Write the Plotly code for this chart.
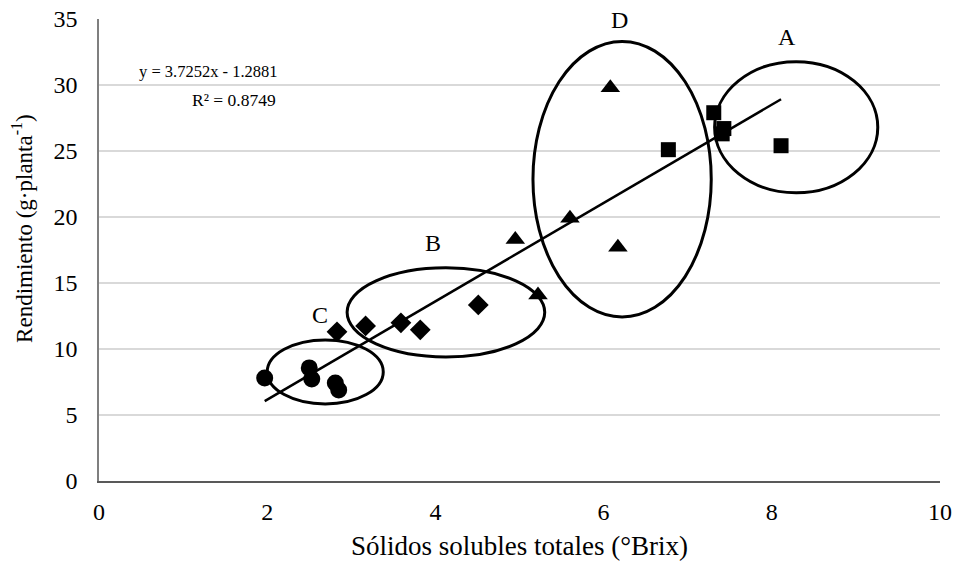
import plotly.graph_objects as go

# Group A (squares)
a_x = [6.77, 7.31, 7.43, 7.41, 8.11]
a_y = [25.1, 27.9, 26.7, 26.3, 25.4]
# Group D (triangles)
d_x = [6.08, 5.60, 4.95, 6.17, 5.22]
d_y = [29.8, 19.9, 18.3, 17.7, 14.1]
# Group B (diamonds)
b_x = [2.83, 3.17, 3.59, 3.82, 4.51]
b_y = [11.3, 11.75, 11.98, 11.45, 13.34]
# Group C (circles)
c_x = [1.97, 2.50, 2.53, 2.81, 2.85]
c_y = [7.8, 8.57, 7.73, 7.43, 6.9]

slope, intercept = 3.7252, -1.2881
r2 = 0.8749

# ellipses (x0, x1, y0, y1) and labels
ellipses = {
    "A": (7.32, 9.26, 21.83, 31.77),
    "B": (2.95, 5.30, 9.4, 16.15),
    "C": (2.0, 3.38, 5.84, 10.69),
    "D": (5.16, 7.28, 12.43, 33.3),
}
label_pos = {"A": (8.18, 33.6), "B": (3.97, 18.0), "C": (2.63, 12.6), "D": (6.19, 34.9)}

x_ticks = [0, 2, 4, 6, 8, 10]
y_ticks = [0, 5, 10, 15, 20, 25, 30, 35]

font_family = "Liberation Serif"

fig = go.Figure()
all_x = a_x + d_x + b_x + c_x
xmin, xmax = min(all_x), max(all_x)
fig.add_trace(go.Scatter(x=[xmin, xmax], y=[slope * xmin + intercept, slope * xmax + intercept],
                         mode="lines", line=dict(color="black", width=2.5), showlegend=False,
                         hoverinfo="skip"))
for xs, ys, sym, sz in [(a_x, a_y, "square", 15), (d_x, d_y, "triangle-up", 17),
                        (b_x, b_y, "diamond", 16), (c_x, c_y, "circle", 17)]:
    fig.add_trace(go.Scatter(x=xs, y=ys, mode="markers",
                             marker=dict(symbol=sym, size=sz, color="black"), showlegend=False))

for k, (x0, x1, y0, y1) in ellipses.items():
    fig.add_shape(type="circle", xref="x", yref="y", x0=x0, x1=x1, y0=y0, y1=y1,
                  line=dict(color="black", width=3))
    lx, ly = label_pos[k]
    fig.add_annotation(x=lx, y=ly, text=k, showarrow=False,
                       font=dict(family=font_family, size=24, color="black"))

fig.add_annotation(x=1.3, y=31.0, text=f"y = {slope}x - {abs(intercept)}", showarrow=False,
                   font=dict(family=font_family, size=16.5, color="black"))
fig.add_annotation(x=1.6, y=28.9, text=f"R² = {r2}", showarrow=False,
                   font=dict(family=font_family, size=17.5, color="black"))

# y-axis title (placed slightly above centre, as in the reference)
fig.add_annotation(xref="paper", x=0, xanchor="center", xshift=-76, yref="y", y=19.1,
                   text="Rendimiento (g·planta<sup>-1</sup>)", textangle=-90, showarrow=False,
                   font=dict(family=font_family, size=23, color="black"))

fig.update_layout(
    width=956, height=564,
    margin=dict(l=99, r=16, t=19, b=83),
    paper_bgcolor="white", plot_bgcolor="white",
    font=dict(family=font_family, size=24, color="black"),
)
fig.update_xaxes(range=[0, 10], tickvals=x_ticks, showgrid=False, zeroline=False,
                 showline=True, linecolor="#595959", linewidth=2, automargin=False,
                 ticks="", ticklabelstandoff=8, tickfont=dict(size=24), ticklabeloverflow="allow",
                 title=dict(text="Sólidos solubles totales (°Brix)", standoff=12,
                            font=dict(family=font_family, size=27)))
fig.update_yaxes(range=[0, 35], tickvals=y_ticks, showgrid=True, gridcolor="#d9d9d9", gridwidth=1.5,
                 zeroline=False, showline=True, linecolor="#7f7f7f", linewidth=1.5, automargin=False,
                 ticks="", ticklabelstandoff=15, tickfont=dict(size=24), ticklabeloverflow="allow")

# remove the page's default 8px body margin so the 956x564 figure fills the window exactly
fig.write_html("out.html", config={"displayModeBar": False},
               post_script="document.body.style.margin='0';")
